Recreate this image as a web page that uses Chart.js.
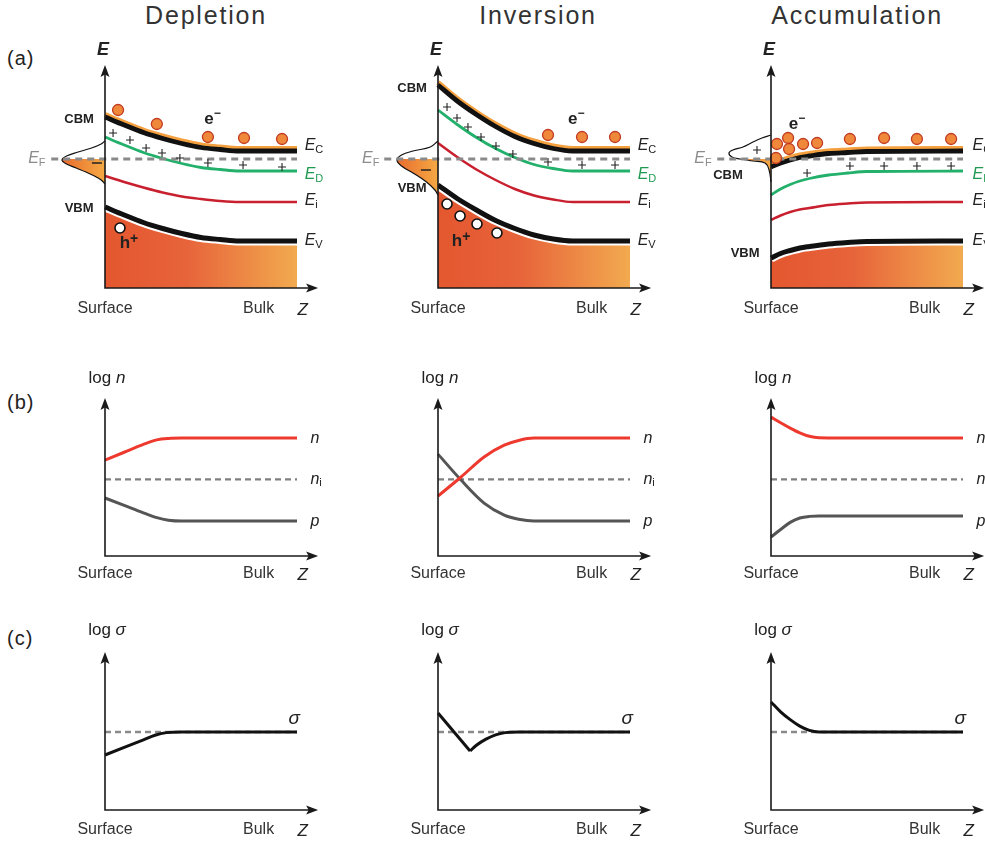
<!DOCTYPE html>
<html>
<head>
<meta charset="utf-8">
<script src="https://cdn.jsdelivr.net/npm/chart.js@4.4.0/dist/chart.umd.min.js"></script>
<style>
  body { margin: 0; background: #fff; width: 985px; height: 844px; overflow: hidden; position: relative;
         font-family: 'Liberation Sans', Arial, sans-serif; color: #222; }
  canvas { position: absolute; }
  .title { position: absolute; top: 1px; font-size: 25px; letter-spacing: 1.8px; color: #333; transform: translateX(-50%); white-space: nowrap; }
  .tag { position: absolute; left: 7px; font-size: 20px; letter-spacing: 1px; color: #222; }
</style>
</head>
<body>
<div class="title" style="left:206px">Depletion</div>
<div class="title" style="left:538px">Inversion</div>
<div class="title" style="left:857px">Accumulation</div>
<div class="tag" style="top:47px">(a)</div>
<div class="tag" style="top:391px">(b)</div>
<div class="tag" style="top:627px">(c)</div>

<canvas id="a0" width="330" height="300" style="left:0;top:30px"></canvas>
<canvas id="a1" width="330" height="300" style="left:333px;top:30px"></canvas>
<canvas id="a2" width="330" height="300" style="left:666px;top:30px"></canvas>
<canvas id="b0" width="330" height="240" style="left:0;top:360px"></canvas>
<canvas id="b1" width="330" height="240" style="left:333px;top:360px"></canvas>
<canvas id="b2" width="330" height="240" style="left:666px;top:360px"></canvas>
<canvas id="c0" width="330" height="229" style="left:0;top:615px"></canvas>
<canvas id="c1" width="330" height="229" style="left:333px;top:615px"></canvas>
<canvas id="c2" width="330" height="229" style="left:666px;top:615px"></canvas>

<script>
const FF = "'Liberation Sans', Arial, sans-serif";

// ---------- (a) band diagrams: z = depth (0 surface, 1 bulk), E in arbitrary energy units
const EF = 2.58;
const zBand = [0, 0.1, 0.2, 0.3, 0.4, 0.5, 0.6, 0.7, 1.0];      // depletion + inversion
const zBandAcc = [0, 0.05, 0.1, 0.15, 0.2, 0.3, 0.4, 0.5, 1.0]; // accumulation

const depEc = [3.42, 3.26, 3.11, 2.99, 2.89, 2.81, 2.77, 2.74, 2.74];
const depEd = [3.02, 2.86, 2.71, 2.59, 2.49, 2.41, 2.37, 2.34, 2.34];
const depEi = [2.24, 2.12, 2.01, 1.91, 1.83, 1.78, 1.74, 1.72, 1.72];
const depEv = [1.62, 1.46, 1.31, 1.19, 1.09, 1.01, 0.97, 0.94, 0.94];

const invEc = [4.06, 3.74, 3.47, 3.23, 3.03, 2.89, 2.79, 2.74, 2.74];
const invEd = [3.56, 3.27, 3.01, 2.79, 2.61, 2.47, 2.39, 2.34, 2.34];
const invEi = [2.90, 2.62, 2.37, 2.16, 1.98, 1.85, 1.77, 1.72, 1.72];
const invEv = [2.06, 1.79, 1.56, 1.35, 1.19, 1.06, 0.98, 0.94, 0.94];

const accEc = [2.42, 2.50, 2.56, 2.61, 2.64, 2.69, 2.71, 2.73, 2.74];
const accEd = [1.86, 1.98, 2.07, 2.14, 2.19, 2.26, 2.30, 2.33, 2.34];
const accEi = [1.36, 1.45, 1.52, 1.57, 1.60, 1.66, 1.69, 1.71, 1.72];
const accEv = [0.60, 0.69, 0.75, 0.80, 0.83, 0.88, 0.91, 0.93, 0.94];

// occupation curves left of the axis, [z, E]
const depBell = [[0, 2.94], [-0.02, 2.88], [-0.07, 2.80], [-0.14, 2.72], [-0.2, 2.64], [-0.224, 2.56],
                 [-0.2, 2.48], [-0.15, 2.40], [-0.1, 2.32], [-0.055, 2.24], [-0.02, 2.16], [0, 2.08]];
const invBell = [[0, 2.94], [-0.04, 2.82], [-0.13, 2.74], [-0.19, 2.66], [-0.214, 2.56],
                 [-0.19, 2.44], [-0.13, 2.30], [-0.06, 2.12], [-0.016, 1.96], [0, 1.86]];
const accBell = [[0, 3.06], [-0.047, 3.0], [-0.094, 2.92], [-0.146, 2.82], [-0.198, 2.76], [-0.219, 2.70],
                 [-0.203, 2.62], [-0.161, 2.58], [-0.094, 2.54], [-0.031, 2.50], [-0.01, 2.36], [0, 2.12]];

// carriers and ionised donors, [z, E]
const depElectrons = [[0.068, 3.56], [0.27, 3.28], [0.536, 3.02], [0.724, 3.0], [0.922, 2.98]];
const depHoles = [[0.078, 1.2]];
const depPlus = [[0.042, 3.1], [0.13, 2.96], [0.214, 2.8], [0.297, 2.7], [0.39, 2.6], [0.536, 2.5], [0.719, 2.46], [0.922, 2.42]];
const depMinus = [[-0.042, 2.5]];

const invElectrons = [[0.573, 3.06], [0.75, 3.02], [0.922, 3.02]];
const invHoles = [[0.047, 1.68], [0.115, 1.44], [0.203, 1.28], [0.307, 1.1]];
const invPlus = [[0.047, 3.62], [0.099, 3.4], [0.156, 3.22], [0.224, 3.02], [0.302, 2.84], [0.39, 2.68], [0.573, 2.52], [0.75, 2.46], [0.922, 2.46]];
const invMinus = [[-0.063, 2.36]];

const accElectrons = [[0.031, 2.88], [0.089, 3.0], [0.094, 2.78], [0.167, 2.88], [0.24, 2.9], [0.026, 2.6],
                      [0.411, 2.98], [0.589, 3.0], [0.76, 2.98], [0.938, 2.98]];
const accHoles = [];
const accPlus = [[-0.073, 2.76], [0.188, 2.3], [0.411, 2.44], [0.589, 2.44], [0.76, 2.44], [0.938, 2.44]];
const accMinus = [];

// ---------- (b) carrier densities, log n
const NI = 6.5;
const zDepB = [0, 0.1, 0.2, 0.27, 0.33, 0.4, 0.7, 1.0];
const depN = [8.14, 8.8, 9.46, 9.85, 9.97, 10, 10, 10];
const depP = [4.92, 4.29, 3.66, 3.25, 3.04, 2.97, 2.97, 2.97];
const zInvB = [0, 0.12, 0.24, 0.345, 0.42, 0.5, 0.75, 1.0];
const invN = [5.08, 6.7, 8.4, 9.4, 9.8, 10, 10, 10];
const invP = [8.64, 6.44, 4.49, 3.47, 3.12, 2.97, 2.97, 2.97];
const zAccB = [0, 0.05, 0.1, 0.15, 0.2, 0.25, 0.5, 1.0];
const accN = [11.78, 11.3, 10.85, 10.45, 10.15, 10.03, 10, 10];
const accP = [1.61, 2.25, 2.85, 3.22, 3.36, 3.39, 3.39, 3.39];

// ---------- (c) conductivity, log sigma
const SIGMA_BULK = 6.0;
const zDepC = [0, 0.1, 0.2, 0.26, 0.32, 0.4, 0.7, 1.0];
const depSigma = [4.23, 4.81, 5.39, 5.75, 5.95, 6, 6, 6];
const zInvDrop = [0, 0.167];
const invSigmaDrop = [7.46, 4.54];
const zInvRise = [0.167, 0.2, 0.25, 0.3, 0.35, 0.42, 0.7, 1.0];
const invSigmaRise = [4.54, 4.98, 5.45, 5.78, 5.95, 6, 6, 6];
const zAccC = [0, 0.05, 0.1, 0.15, 0.2, 0.25, 0.5, 1.0];
const accSigma = [8.31, 7.55, 6.95, 6.45, 6.12, 6.0, 6, 6];

// ---------- helpers
const zip = (z, v) => z.map((x, i) => ({ x, y: v[i] }));
const pairs = arr => arr.map(([x, y]) => ({ x, y }));

function curve(data, color, width, extra) {
  return Object.assign({ type: 'line', data, borderColor: color, borderWidth: width, pointRadius: 0,
    fill: false, cubicInterpolationMode: 'monotone' }, extra || {});
}
function dots(data, style) {
  return Object.assign({ type: 'scatter', data, showLine: false }, style);
}

function fontOf(code) {
  const st = code[0], sz = code.slice(1);
  const pre = st === 'i' ? 'italic ' : st === 'b' ? 'bold ' : st === 'B' ? 'italic bold ' : '';
  return pre + sz + 'px ' + FF;
}
function drawRich(ctx, parts, x, y, align, color) {
  ctx.save();
  ctx.fillStyle = color || '#222';
  ctx.textBaseline = 'middle';
  ctx.textAlign = 'left';
  let w = 0;
  parts.forEach(p => { ctx.font = fontOf(p[1]); w += ctx.measureText(p[0]).width; });
  let cx = align === 'left' ? x : align === 'right' ? x - w : x - w / 2;
  parts.forEach(p => {
    ctx.font = fontOf(p[1]);
    ctx.fillText(p[0], cx, y + (p[2] || 0));
    cx += ctx.measureText(p[0]).width;
  });
  ctx.restore();
}

function drawBellFill(chart, index, level) {
  const { ctx, chartArea, scales } = chart;
  const meta = chart.getDatasetMeta(index);
  if (meta.dataset && meta.dataset.updateControlPoints) meta.dataset.updateControlPoints(chartArea, 'x');
  const pts = meta.data;
  const x0 = scales.x.getPixelForValue(0);
  const yF = scales.y.getPixelForValue(level);
  const minX = Math.min(...pts.map(p => p.x));
  ctx.save();
  ctx.beginPath();
  ctx.rect(chartArea.left, yF, x0 - chartArea.left, chartArea.bottom - yF);
  ctx.clip();
  ctx.beginPath();
  pts.forEach((pt, i) => {
    if (i === 0) { ctx.moveTo(pt.x, pt.y); return; }
    const pr = pts[i - 1];
    if (pr.cp2x !== undefined && pt.cp1x !== undefined) ctx.bezierCurveTo(pr.cp2x, pr.cp2y, pt.cp1x, pt.cp1y, pt.x, pt.y);
    else ctx.lineTo(pt.x, pt.y);
  });
  ctx.closePath();
  const g = ctx.createLinearGradient(minX, 0, x0, 0);
  g.addColorStop(0, '#e96c2e');
  g.addColorStop(1, '#f5a944');
  ctx.fillStyle = g;
  ctx.fill();
  ctx.restore();
}

function drawAxes(chart, panel) {
  const { ctx, chartArea, scales } = chart;
  const x0 = scales.x.getPixelForValue(0);
  const y0 = chartArea.bottom, top = chartArea.top;
  const xEnd = scales.x.getPixelForValue(1.11);
  ctx.save();
  ctx.strokeStyle = '#1a1a1a';
  ctx.fillStyle = '#1a1a1a';
  ctx.lineWidth = 1.6;
  ctx.beginPath();
  ctx.moveTo(x0, y0 + 0.8); ctx.lineTo(x0, top + 8);
  ctx.moveTo(x0 - 0.8, y0); ctx.lineTo(xEnd - 8, y0);
  ctx.stroke();
  ctx.beginPath();
  ctx.moveTo(x0, top); ctx.lineTo(x0 - 4.5, top + 12); ctx.lineTo(x0, top + 9.5); ctx.lineTo(x0 + 4.5, top + 12); ctx.closePath();
  ctx.moveTo(xEnd, y0); ctx.lineTo(xEnd - 12, y0 - 4.5); ctx.lineTo(xEnd - 9.5, y0); ctx.lineTo(xEnd - 12, y0 + 4.5); ctx.closePath();
  ctx.fill();
  ctx.restore();

  // axis captions
  const yb = y0 + panel.captionGap;
  drawRich(ctx, [['Surface', 'n16']], x0, yb, 'center', '#333');
  drawRich(ctx, [['Bulk', 'n16']], scales.x.getPixelForValue(0.8), yb, 'center', '#333');
  drawRich(ctx, [['Z', 'i17']], scales.x.getPixelForValue(1.03), yb + 1, 'center', '#222');
  drawRich(ctx, panel.yTitle, x0 + (panel.yTitleDx || 0), top - panel.yTitleGap, 'center', '#222');
}

function drawLabels(chart, panel) {
  const { ctx, scales } = chart;
  (panel.labels || []).forEach(l => {
    drawRich(ctx, l.parts, scales.x.getPixelForValue(l.z), scales.y.getPixelForValue(l.v), l.align || 'center', l.color);
  });
}

function decorPlugin(panel) {
  return {
    id: 'decor',
    beforeDatasetDraw(chart, args) {
      const ds = chart.data.datasets[args.index];
      if (ds.bellFill !== undefined) drawBellFill(chart, args.index, ds.bellFill);
      if (ds.shiftY) { chart.ctx.save(); chart.ctx.translate(0, ds.shiftY); }
    },
    afterDatasetDraw(chart, args) {
      const ds = chart.data.datasets[args.index];
      if (ds.shiftY) chart.ctx.restore();
    },
    afterDatasetsDraw(chart) { drawAxes(chart, panel); },
    afterDraw(chart) { drawLabels(chart, panel); }
  };
}

function valenceGradient(c) {
  const { ctx, chartArea, scales } = c.chart;
  if (!chartArea) return '#e65c35';
  const g = ctx.createLinearGradient(scales.x.getPixelForValue(0), 0, scales.x.getPixelForValue(1), 0);
  g.addColorStop(0, '#e4572f');
  g.addColorStop(0.42, '#e7633a');
  g.addColorStop(1, '#f2aa4f');
  return g;
}

function makeChart(id, datasets, yMax, pad, panel) {
  // paint order = array order
  datasets.forEach((d, i) => { d.order = -i; });
  new Chart(document.getElementById(id), {
    type: 'line',
    data: { datasets },
    options: {
      responsive: false,
      animation: false,
      events: [],
      layout: { padding: pad },
      scales: {
        x: { type: 'linear', min: -0.3, max: 1, display: false },
        y: { type: 'linear', min: 0, max: yMax, display: false }
      },
      plugins: { legend: { display: false }, tooltip: { enabled: false } }
    },
    plugins: [decorPlugin(panel)]
  });
}

const eSub = (s, color) => [['E', 'i16'], [s, 'n11', 4]];
const rightLabels = z => [
  { z, v: 2.84, parts: eSub('C'), align: 'left' },
  { z, v: 2.26, parts: eSub('D'), align: 'left', color: '#1f9a50' },
  { z, v: 1.74, parts: eSub('i'), align: 'left' },
  { z, v: 0.94, parts: eSub('V'), align: 'left' }
];
const tag = (t, z, v) => ({ z, v, parts: [[t, 'b13']] });

// ---------- row (a)
const bandPanels = [
  { id: 'a0', z: zBand, ec: depEc, ed: depEd, ei: depEi, ev: depEv, bell: depBell,
    electrons: depElectrons, holes: depHoles, plus: depPlus, minus: depMinus,
    labels: [tag('CBM', -0.135, 3.38), tag('VBM', -0.135, 1.6),
      { z: 0.56, v: 3.38, parts: [['e', 'b17'], ['\u2212', 'b12', -5]] },
      { z: 0.125, v: 0.9, parts: [['h', 'b17'], ['+', 'b14', -4]] },
      { z: -0.355, v: EF, parts: eSub('F'), color: '#8c8c8c' }
    ].concat(rightLabels(1.04)) },
  { id: 'a1', z: zBand, ec: invEc, ed: invEd, ei: invEi, ev: invEv, bell: invBell,
    electrons: invElectrons, holes: invHoles, plus: invPlus, minus: invMinus,
    labels: [tag('CBM', -0.135, 4.0), tag('VBM', -0.135, 2.0),
      { z: 0.72, v: 3.38, parts: [['e', 'b17'], ['\u2212', 'b12', -5]] },
      { z: 0.12, v: 0.94, parts: [['h', 'b17'], ['+', 'b14', -4]] },
      { z: -0.35, v: EF, parts: eSub('F'), color: '#8c8c8c' }
    ].concat(rightLabels(1.04)) },
  { id: 'a2', z: zBandAcc, ec: accEc, ed: accEd, ei: accEi, ev: accEv, bell: accBell,
    electrons: accElectrons, holes: accHoles, plus: accPlus, minus: accMinus,
    labels: [tag('CBM', -0.224, 2.26), tag('VBM', -0.135, 0.7),
      { z: 0.135, v: 3.28, parts: [['e', 'b17'], ['\u2212', 'b12', -5]] },
      { z: -0.354, v: EF, parts: eSub('F'), color: '#8c8c8c' }
    ].concat(rightLabels(1.05)) }
];

bandPanels.forEach(p => {
  const ds = [
    curve(zip(p.z, p.ev), '#ffffff', 9, { fill: 'start', backgroundColor: valenceGradient }),
    curve(zip(p.z, p.ev), '#111111', 5),
    curve(zip(p.z, p.ei), '#c8202e', 2.5),
    curve(zip(p.z, p.ed), '#22b06b', 2.8),
    curve(zip(p.z, p.ec), '#f4a03e', 5, { shiftY: -2.5 }),
    curve(zip(p.z, p.ec), '#111111', 4.8),
    curve(pairs(p.bell), '#111111', 1.2, { cubicInterpolationMode: 'default', tension: 0.4, bellFill: EF }),
    curve(zip([-0.28, 1], [EF, EF]), '#8a8a8a', 2.8, { borderDash: [7, 5] }),
    dots(pairs(p.plus), { pointStyle: 'cross', pointRadius: 4, borderColor: '#222', pointBorderWidth: 1.1 }),
    dots(pairs(p.minus), { pointStyle: 'line', pointRadius: 5, borderColor: '#222', pointBorderWidth: 1.6 }),
    dots(pairs(p.electrons), { pointRadius: 5.5, backgroundColor: '#f0883c', borderColor: '#c23b22', pointBorderWidth: 1.3 }),
    dots(pairs(p.holes), { pointRadius: 5, backgroundColor: '#ffffff', borderColor: '#111', pointBorderWidth: 1.6 })
  ];
  makeChart(p.id, ds, 4.46, { left: 47.4, right: 33, top: 35, bottom: 42 },
    { labels: p.labels, captionGap: 21, yTitle: [['E', 'B18']], yTitleGap: 15, yTitleDx: -2 });
});

// ---------- row (b)
const densityPanels = [
  { id: 'b0', z: zDepB, n: depN, p: depP },
  { id: 'b1', z: zInvB, n: invN, p: invP },
  { id: 'b2', z: zAccB, n: accN, p: accP }
];
densityPanels.forEach(p => {
  const ds = [
    curve(zip([0, 1], [NI, NI]), '#7f7f7f', 2.4, { borderDash: [6, 4] }),
    curve(zip(p.z, p.p), '#555555', 3),
    curve(zip(p.z, p.n), '#ee3a2e', 3)
  ];
  makeChart(p.id, ds, 13.4, { left: 47.4, right: 33, top: 38, bottom: 44 }, {
    captionGap: 18, yTitle: [['log ', 'n17'], ['n', 'i17']], yTitleGap: 20, yTitleDx: 2,
    labels: [
      { z: 1.07, v: 10, parts: [['n', 'i16']], align: 'left' },
      { z: 1.07, v: NI, parts: [['n', 'i16'], ['i', 'n11', 4]], align: 'left' },
      { z: 1.07, v: 2.9, parts: [['p', 'i16']], align: 'left' }
    ]
  });
});

// ---------- row (c)
const sigmaPanels = [
  { id: 'c0', parts: [[zDepC, depSigma]] },
  { id: 'c1', parts: [[zInvDrop, invSigmaDrop], [zInvRise, invSigmaRise]] },
  { id: 'c2', parts: [[zAccC, accSigma]] }
];
sigmaPanels.forEach(p => {
  const ds = [curve(zip([0, 1], [SIGMA_BULK, SIGMA_BULK]), '#8a8a8a', 2.5, { borderDash: [6, 4] })];
  p.parts.forEach(([z, v]) => ds.push(curve(zip(z, v), '#111111', 3,
    z.length === 2 ? { cubicInterpolationMode: 'default', tension: 0 } : {})));
  makeChart(p.id, ds, 12.15, { left: 47.4, right: 33, top: 37, bottom: 34 }, {
    captionGap: 20, yTitle: [['log ', 'n17'], ['\u03c3', 'i17']], yTitleGap: 22, yTitleDx: 2,
    labels: [{ z: 0.985, v: 7.0, parts: [['\u03c3', 'i19']] }]
  });
});
</script>
</body>
</html>
